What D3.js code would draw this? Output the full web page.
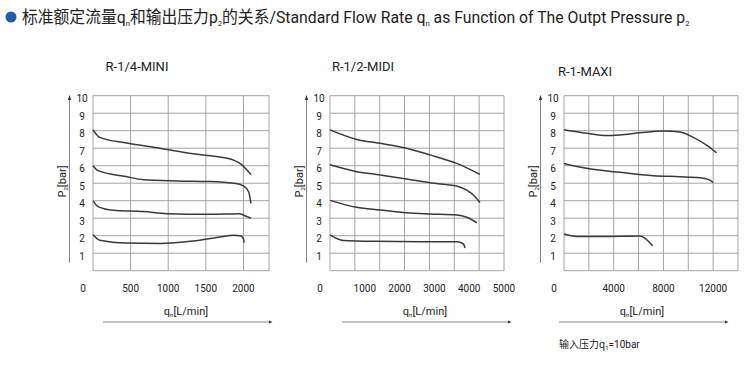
<!DOCTYPE html>
<html><head><meta charset="utf-8">
<script src="https://cdn.jsdelivr.net/npm/d3@7"></script>
<style>
html,body{margin:0;padding:0;background:#fff;}
svg{display:block;}
text{font-family:"Liberation Sans Narrow","Arial Narrow","Roboto","Noto Sans CJK SC",sans-serif;fill:#222;}
.cjk{font-family:"Noto Sans CJK SC",sans-serif;}
</style></head>
<body><svg id="c" width="750" height="366"></svg>
<script>
// ---- data ----
const panelTitles = ["R-1/4-MINI", "R-1/2-MIDI", "R-1-MAXI"];
const xMaxValues = [2340, 5000, 14000];
const xTickLabels1 = [500, 1000, 1500, 2000];
const xTickLabels2 = [1000, 2000, 3000, 4000, 5000];
const xTickLabels3 = [4000, 8000, 12000];
const xGrid1 = [500, 1000, 1500, 2000];
const xGrid2 = [714, 1429, 2143, 2857, 3571, 4286];
const xGrid3 = [2000, 4000, 6000, 8000, 10000, 12000];
const yTickLabels = [1, 2, 3, 4, 5, 6, 7, 8, 9, 10];
const xAxisTitle = "q";
const xAxisUnit = "[L/min]";
const yAxisTitle = "P";
const yAxisUnit = "[bar]";
const noteText = "输入压力q";
const noteTail = "=10bar";

const miniCurves = [
  [[0,8.05],[90,7.62],[450,7.3],[890,7.0],[1330,6.68],[1640,6.52],[1870,6.32],[1980,6.05],[2040,5.78],[2100,5.5]],
  [[0,6.0],[67,5.72],[440,5.38],[670,5.2],[1110,5.13],[1560,5.1],[1870,5.0],[2000,4.85],[2070,4.5],[2100,3.85]],
  [[0,4.0],[67,3.66],[270,3.45],[670,3.38],[980,3.26],[1560,3.22],[1950,3.25],[2020,3.14],[2100,3.0]],
  [[0,2.05],[90,1.74],[450,1.58],[890,1.56],[1330,1.7],[1690,1.93],[1870,2.03],[1960,2.0],[2000,1.82],[2010,1.6]]
];
const midiCurves = [
  [[0,8.05],[770,7.5],[1440,7.28],[2200,7.0],[2870,6.62],[3640,6.13],[4310,5.5]],
  [[0,6.05],[770,5.66],[1440,5.47],[2200,5.24],[2870,5.02],[3640,4.84],[3930,4.6],[4170,4.23],[4310,3.9]],
  [[0,4.02],[770,3.62],[1440,3.47],[2200,3.31],[2870,3.24],[3640,3.18],[3930,3.05],[4220,2.74]],
  [[0,2.05],[380,1.73],[1250,1.68],[2680,1.66],[3640,1.66],[3830,1.54],[3880,1.3]]
];
const maxiCurves = [
  [[0,8.05],[1820,7.85],[3160,7.73],[4500,7.76],[6100,7.88],[8000,7.98],[9330,7.92],[10400,7.62],[11470,7.18],[12270,6.74]],
  [[0,6.13],[1800,5.85],[4500,5.62],[7180,5.43],[9330,5.37],[10930,5.31],[11600,5.22],[12000,5.05]],
  [[0,2.1],[1020,1.96],[3160,1.95],[6100,1.98],[6500,1.86],[6900,1.6],[7130,1.43]]
];

// ---- layout ----
const panels = [
  {title: panelTitles[0], xMax: xMaxValues[0], ticks: xTickLabels1, grid: xGrid1, curves: miniCurves,
   left: 93, right: 269, titleX: 137, titleY: 71, arrow: [103, 269], xtitleX: 186},
  {title: panelTitles[1], xMax: xMaxValues[1], ticks: xTickLabels2, grid: xGrid2, curves: midiCurves,
   left: 330, right: 504, titleX: 363, titleY: 71, arrow: [342, 508], xtitleX: 425},
  {title: panelTitles[2], xMax: xMaxValues[2], ticks: xTickLabels3, grid: xGrid3, curves: maxiCurves,
   left: 564, right: 738, titleX: 585, titleY: 76, arrow: [559, 725], xtitleX: 642}
];
const plotTop = 95.7, plotBottom = 270.7;
const gridColor = "#9a9a9a";
const svg = d3.select("#c");

// header
svg.append("circle").attr("cx", 11).attr("cy", 17).attr("r", 5.5).attr("fill", "#1f5fa8");
const hg = svg.append("g");
const h = hg.append("text").attr("x", 0).attr("y", 0).attr("font-size", 16.5);
const parts = [["标准额定流量q", 0], ["n", 1], ["和输出压力p", 0], ["2", 1], ["的关系/Standard Flow Rate q", 0], ["n", 1], [" as Function of The Outpt Pressure p", 0], ["2", 1]];
let prevSub = false;
parts.forEach(([t, sub]) => {
  const ts = h.append("tspan").text(t);
  if (sub) { ts.attr("font-size", 8).attr("dy", 3); prevSub = true; }
  else if (prevSub) { ts.attr("dy", -3); prevSub = false; }
});
const natural = h.node().getComputedTextLength();
hg.attr("transform", `translate(22,23) scale(${668 / natural},1)`);

panels.forEach(p => {
  const x = d3.scaleLinear().domain([0, p.xMax]).range([p.left, p.right]);
  const y = d3.scaleLinear().domain([0, 10]).range([plotBottom, plotTop]);
  const g = svg.append("g");

  g.append("text").attr("x", p.titleX).attr("y", p.titleY).attr("text-anchor", "middle")
    .attr("font-size", 13).text(p.title);

  g.selectAll(".hg").data(yTickLabels.concat([0])).enter().append("line")
    .attr("x1", p.left).attr("x2", p.right)
    .attr("y1", d => y(d)).attr("y2", d => y(d))
    .attr("stroke", gridColor).attr("stroke-width", 0.9);
  g.selectAll(".vg").data([0].concat(p.grid, [p.xMax])).enter().append("line")
    .attr("x1", d => x(d)).attr("x2", d => x(d))
    .attr("y1", plotTop).attr("y2", plotBottom)
    .attr("stroke", gridColor).attr("stroke-width", 0.9);

  g.selectAll(".yl").data(yTickLabels).enter().append("text")
    .attr("x", p.left - 11).attr("y", d => y(d) + 6.5)
    .attr("text-anchor", "middle").attr("font-size", 10).text(d => d);
  g.selectAll(".xl").data(p.ticks).enter().append("text")
    .attr("x", d => x(d)).attr("y", 292)
    .attr("text-anchor", "middle").attr("font-size", 10).text(d => d);
  g.append("text").attr("x", p.left - 10).attr("y", 292).attr("text-anchor", "middle")
    .attr("font-size", 10).text(0);

  const ax = p.left - 23.5;
  g.append("line").attr("x1", ax).attr("x2", ax).attr("y1", y(9.9)).attr("y2", y(0.45))
    .attr("stroke", "#777").attr("stroke-width", 0.9);
  g.append("path").attr("d", `M${ax - 1.6},${y(9.75)} L${ax},${y(10.05)} L${ax + 1.6},${y(9.75)} Z`).attr("fill", "#333");
  const yl = g.append("text").attr("transform", `translate(${ax - 4},${y(5.1)}) rotate(-90)`)
    .attr("text-anchor", "middle").attr("font-size", 11);
  yl.append("tspan").text(yAxisTitle);
  yl.append("tspan").attr("font-size", 6).attr("dy", 2).text("2");
  yl.append("tspan").attr("dy", -2).text(yAxisUnit);

  g.append("line").attr("x1", p.arrow[0]).attr("x2", p.arrow[1]).attr("y1", 322).attr("y2", 322)
    .attr("stroke", "#8a8a8a").attr("stroke-width", 1.1);
  g.append("path").attr("d", `M${p.arrow[1]},${320.5} L${p.arrow[1] + 3.5},322 L${p.arrow[1]},${323.5} Z`).attr("fill", "#333");
  const xl = g.append("text").attr("x", p.xtitleX).attr("y", 315).attr("text-anchor", "middle").attr("font-size", 11);
  xl.append("tspan").text(xAxisTitle);
  xl.append("tspan").attr("font-size", 6).attr("dy", 2).text("n");
  xl.append("tspan").attr("dy", -2).text(xAxisUnit);

  const line = d3.line().x(d => x(d[0])).y(d => y(d[1])).curve(d3.curveMonotoneX);
  g.selectAll(".cv").data(p.curves).enter().append("path")
    .attr("d", line).attr("fill", "none").attr("stroke", "#3a3a3a").attr("stroke-width", 1.5);
});

const nt = svg.append("text").attr("x", 559).attr("y", 348).attr("font-size", 10);
nt.append("tspan").attr("class", "cjk").text(noteText);
nt.append("tspan").attr("font-size", 6).attr("dy", 2).text("1");
nt.append("tspan").attr("dy", -2).text(noteTail);
</script></body></html>
